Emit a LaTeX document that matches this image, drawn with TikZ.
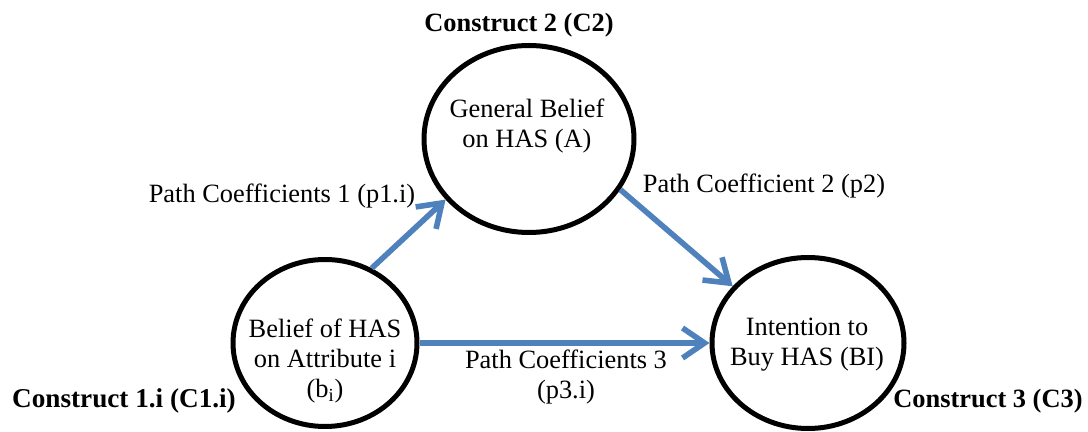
\documentclass[tikz,border=0pt]{standalone}
\usepackage{fontspec}
\setmainfont{Liberation Serif}
\usetikzlibrary{shapes.geometric,arrows.meta}
\definecolor{pathblue}{RGB}{79,129,189}
\tikzset{
  construct/.style={draw,ellipse,line width=2.5pt,inner sep=0pt},
  coeff/.style={draw=pathblue,line width=2.8pt,-{Straight Barb[length=11pt,width=15pt]}},
}
\begin{document}
\begin{tikzpicture}[x=0.5pt,y=-0.5pt,font=\fontsize{13.2}{15}\selectfont]
\useasboundingbox (0,0) rectangle (1088,432);

\node[construct,minimum width=105pt,minimum height=93.5pt] (A) at (529,139) {};
\node[construct,minimum width=92pt,minimum height=83.5pt] (bi) at (325,343) {};
\node[construct,minimum width=96pt,minimum height=85.5pt] (BI) at (808,343) {};

\node[align=center] (tA) at (527,126) {General Belief\\on HAS (A)};
\node[align=center] (tbi) at (325,361) {Belief of HAS\\on Attribute i\\(b\textsubscript{i})};
\node[align=center] (tBI) at (807,345) {Intention to\\Buy HAS (BI)};

\node[anchor=base,font=\fontsize{13.2}{15}\selectfont\bfseries] (c2) at (519,32) {Construct 2 (C2)};
\node[anchor=base,font=\fontsize{13.6}{15}\selectfont\bfseries] (c1) at (124,408) {Construct 1.i (C1.i)};
\node[anchor=base,font=\fontsize{13.2}{15}\selectfont\bfseries] (c3) at (988,408) {Construct 3 (C3)};

\draw[coeff] (bi.58) -- (A.216);
\draw[coeff] (A.331) -- (BI.143);
\draw[coeff] (bi.east) -- (BI.west);

\node[anchor=base] (p1) at (282,203) {Path Coefficients 1 (p1.i)};
\node[anchor=base] (p2) at (764,193) {Path Coefficient 2 (p2)};
\node[align=center] (p3) at (566,377) {Path Coefficients 3\\(p3.i)};
\end{tikzpicture}
\end{document}
